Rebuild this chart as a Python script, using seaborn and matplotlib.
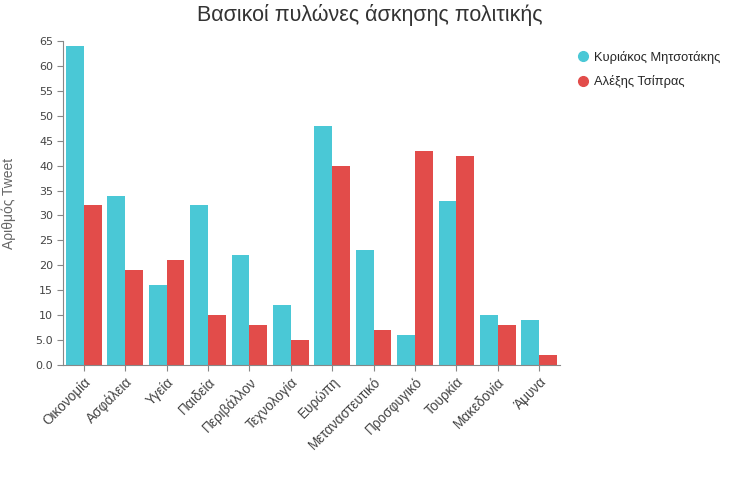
import matplotlib
matplotlib.use("Agg")
import matplotlib.pyplot as plt
from matplotlib.lines import Line2D
import seaborn as sns
import pandas as pd

categories = ["Οικονομία", "Ασφάλεια", "Υγεία", "Παιδεία", "Περιβάλλον", "Τεχνολογία",
              "Ευρώπη", "Μεταναστευτικό", "Προσφυγικό", "Τουρκία", "Μακεδονία", "Άμυνα"]
mitsotakis = [64, 34, 16, 32, 22, 12, 48, 23, 6, 33, 10, 9]
tsipras = [32, 19, 21, 10, 8, 5, 40, 7, 43, 42, 8, 2]
series_names = ["Κυριάκος Μητσοτάκης", "Αλέξης Τσίπρας"]
colors = ["#4AC8D6", "#E24C4A"]
yticks = list(range(0, 66, 5))
ytick_labels = ["0.0", "5.0"] + [str(v) for v in yticks[2:]]

df = pd.DataFrame({
    "cat": categories * 2,
    "val": mitsotakis + tsipras,
    "who": [series_names[0]] * len(categories) + [series_names[1]] * len(categories),
})

sns.set_style("white")
plt.rcParams["font.family"] = ["DejaVu Sans"]
sans = ["Liberation Sans", "DejaVu Sans"]

fig = plt.figure(figsize=(7.36, 4.8), dpi=100)
ax = fig.add_axes([63 / 736, 1 - 365 / 480, (560 - 63) / 736, (365 - 41) / 480])

sns.barplot(data=df, x="cat", y="val", hue="who", palette=colors, width=0.86,
            gap=0, ax=ax, legend=False, saturation=1, linewidth=0)

ax.set_ylim(0, 65)
ax.set_xlim(-0.5, len(categories) - 0.5)
ax.set_yticks(yticks)
ax.set_yticklabels(ytick_labels, fontsize=8, color="#444444")
ax.set_xticks(range(len(categories)))
ax.set_xticklabels(categories, rotation=45, ha="right", rotation_mode="anchor",
                   fontsize=9.8, color="#444444", family=sans)
ax.set_xlabel("")
ax.set_ylabel("Αριθμός Tweet", fontsize=10, color="#666666", family=sans)
ax.yaxis.set_label_coords(-0.095, 0.5)
for s in ["top", "right"]:
    ax.spines[s].set_visible(False)
for s in ["left", "bottom"]:
    ax.spines[s].set_color("#888888")
    ax.spines[s].set_linewidth(0.8)
ax.tick_params(axis="both", which="both", length=4, width=0.8, color="#888888",
               left=True, bottom=True, pad=3)

fig.text(0.503, 0.968, "Βασικοί πυλώνες άσκησης πολιτικής", ha="center", va="center",
         fontsize=15.5, color="#333333", family=sans)

handles = [Line2D([], [], marker="o", linestyle="", markersize=7, color=c) for c in colors]
fig.legend(handles, series_names, loc="upper left", bbox_to_anchor=(0.777, 0.905),
           frameon=False, handletextpad=0.3, labelspacing=0.9,
           handlelength=1.0, borderaxespad=0, prop={"family": sans, "size": 9.3})

fig.savefig("out.png", dpi=100)
